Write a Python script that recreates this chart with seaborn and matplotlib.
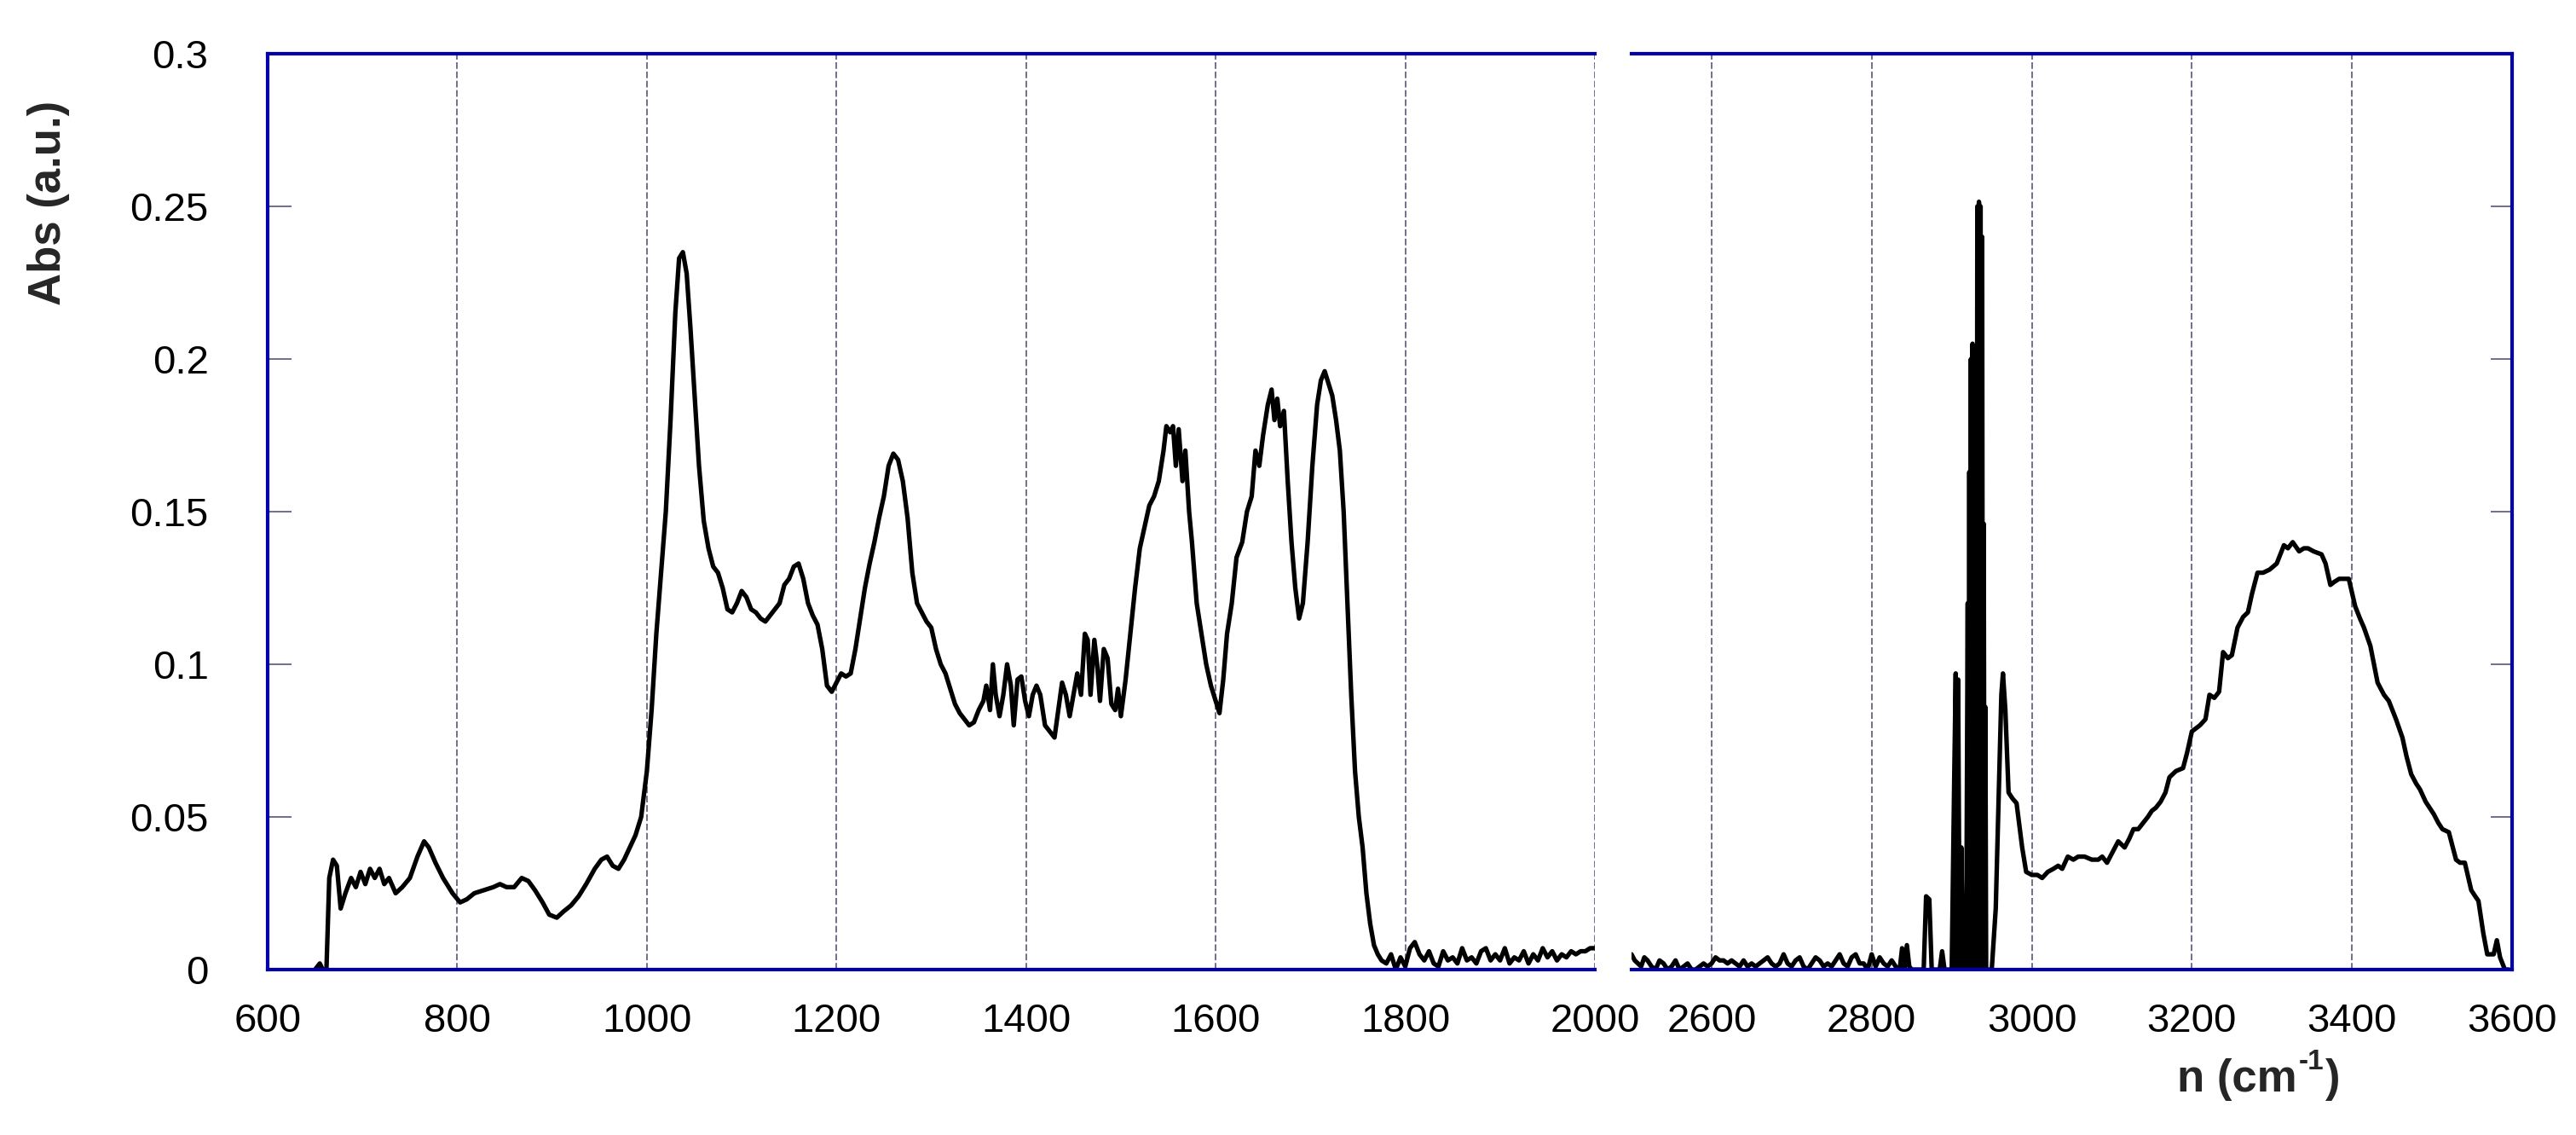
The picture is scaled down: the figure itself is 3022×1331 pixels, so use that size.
import numpy as np
import pandas as pd
import matplotlib
matplotlib.use("Agg")
import matplotlib.pyplot as plt
import seaborn as sns

# ---------------- data ----------------
left_wn = [650, 655, 658, 662, 665, 669, 673, 677, 682, 688, 693, 698, 703, 708, 713, 718, 723, 728,
           735, 742, 750, 758, 765, 770, 777, 785, 795, 803, 810, 818, 828, 838, 845, 852, 860, 868,
           875, 882, 890, 897, 905, 912, 920, 928, 936, 945, 952, 958, 964, 970, 976, 982, 988, 994,
           1000, 1005, 1010, 1015, 1020, 1025, 1030, 1034, 1038, 1042, 1046, 1050, 1055, 1060, 1065,
           1070, 1075, 1080, 1085, 1090, 1095, 1100, 1105, 1110, 1115, 1120, 1125, 1130, 1135, 1140,
           1145, 1150, 1155, 1160, 1165, 1170, 1175, 1180, 1185, 1190, 1195, 1200, 1205, 1210, 1215,
           1220, 1225, 1230, 1235, 1240, 1245, 1250, 1255, 1260, 1265, 1270, 1275, 1280, 1285, 1290,
           1295, 1300, 1305, 1310, 1315, 1320, 1325, 1330, 1335, 1340, 1345, 1350, 1355, 1358, 1362,
           1365, 1368, 1372, 1376, 1380, 1384, 1387, 1391, 1395, 1399, 1403, 1407, 1411, 1415, 1420,
           1425, 1430, 1434, 1438, 1442, 1446, 1450, 1454, 1458, 1462, 1465, 1468, 1472, 1475, 1478,
           1482, 1486, 1490, 1494, 1497, 1500, 1505, 1510, 1515, 1520, 1525, 1530, 1535, 1540, 1545,
           1548, 1552, 1555, 1558, 1561, 1565, 1568, 1572, 1575, 1580, 1585, 1590, 1595, 1600, 1604,
           1608, 1612, 1617, 1622, 1628, 1633, 1638, 1642, 1646, 1650, 1655, 1659, 1662, 1665, 1668,
           1672, 1676, 1680, 1684, 1688, 1692, 1697, 1702, 1707, 1711, 1715, 1719, 1723, 1727, 1731,
           1735, 1739, 1743, 1747, 1751, 1755, 1759, 1763, 1767, 1771, 1775, 1780, 1785, 1790, 1795,
           1800, 1805, 1810, 1815, 1820, 1825, 1830, 1835, 1840, 1845, 1850, 1855, 1860, 1865, 1870,
           1875, 1880, 1885, 1890, 1895, 1900, 1905, 1910, 1915, 1920, 1925, 1930, 1935, 1940, 1945,
           1950, 1955, 1960, 1965, 1970, 1975, 1980, 1985, 1990, 1995, 2000]
left_abs = [0.0, 0.002, 0.0, 0.0, 0.030, 0.036, 0.034, 0.020, 0.025, 0.030, 0.027, 0.032, 0.028, 0.033,
            0.030, 0.033, 0.028, 0.030, 0.025, 0.027, 0.030, 0.037, 0.042, 0.040, 0.035, 0.030, 0.025,
            0.022, 0.023, 0.025, 0.026, 0.027, 0.028, 0.027, 0.027, 0.030, 0.029, 0.026, 0.022, 0.018,
            0.017, 0.019, 0.021, 0.024, 0.028, 0.033, 0.036, 0.037, 0.034, 0.033, 0.036, 0.040, 0.044,
            0.050, 0.065, 0.085, 0.110, 0.130, 0.150, 0.180, 0.215, 0.233, 0.235, 0.228, 0.210, 0.190,
            0.165, 0.147, 0.138, 0.132, 0.130, 0.125, 0.118, 0.117, 0.120, 0.124, 0.122, 0.118, 0.117,
            0.115, 0.114, 0.116, 0.118, 0.120, 0.126, 0.128, 0.132, 0.133, 0.128, 0.120, 0.116, 0.113,
            0.105, 0.093, 0.091, 0.094, 0.097, 0.096, 0.097, 0.105, 0.115, 0.125, 0.133, 0.140, 0.148,
            0.155, 0.165, 0.169, 0.167, 0.160, 0.148, 0.130, 0.120, 0.117, 0.114, 0.112, 0.105, 0.100,
            0.097, 0.092, 0.087, 0.084, 0.082, 0.080, 0.081, 0.085, 0.088, 0.093, 0.085, 0.100, 0.090,
            0.083, 0.090, 0.100, 0.093, 0.080, 0.095, 0.096, 0.088, 0.083, 0.090, 0.093, 0.090, 0.080,
            0.078, 0.076, 0.085, 0.094, 0.090, 0.083, 0.090, 0.097, 0.090, 0.110, 0.108, 0.090, 0.108,
            0.100, 0.088, 0.105, 0.102, 0.087, 0.085, 0.092, 0.083, 0.095, 0.110, 0.125, 0.138, 0.145,
            0.152, 0.155, 0.160, 0.170, 0.178, 0.176, 0.178, 0.165, 0.177, 0.160, 0.170, 0.150, 0.140,
            0.120, 0.110, 0.100, 0.093, 0.088, 0.084, 0.095, 0.110, 0.120, 0.135, 0.140, 0.150, 0.155,
            0.170, 0.165, 0.175, 0.185, 0.190, 0.180, 0.187, 0.178, 0.183, 0.160, 0.140, 0.125, 0.115,
            0.120, 0.140, 0.165, 0.185, 0.193, 0.196, 0.192, 0.188, 0.180, 0.170, 0.150, 0.120, 0.090,
            0.065, 0.050, 0.040, 0.025, 0.015, 0.008, 0.005, 0.003, 0.002, 0.005, 0.000, 0.004, 0.001,
            0.007, 0.009, 0.005, 0.003, 0.006, 0.002, 0.001, 0.006, 0.003, 0.004, 0.002, 0.007, 0.003,
            0.004, 0.002, 0.006, 0.007, 0.003, 0.005, 0.003, 0.007, 0.002, 0.004, 0.003, 0.006, 0.002,
            0.005, 0.003, 0.007, 0.004, 0.006, 0.003, 0.005, 0.004, 0.006, 0.005, 0.006, 0.006, 0.007,
            0.007]

# right panel: baseline noise region
noise_wn = [2500, 2504, 2508, 2512, 2516, 2520, 2525, 2530, 2535, 2540,
            2545, 2550, 2555, 2560, 2565, 2570, 2575, 2580, 2585, 2590,
            2595, 2600, 2605, 2610, 2615, 2620, 2625, 2630, 2635, 2640,
            2645, 2650, 2655, 2660, 2665, 2670, 2675, 2680, 2685, 2690,
            2695, 2700, 2705, 2710, 2715, 2720, 2725, 2730, 2735, 2740,
            2745, 2750, 2755, 2760, 2765, 2770, 2775, 2780, 2785, 2790,
            2795, 2800, 2805, 2810, 2815, 2820, 2825, 2830, 2835, 2838,
            2841, 2844, 2847, 2850, 2860, 2865, 2868, 2872, 2875, 2885,
            2888, 2891, 2900]
noise_abs = [0.005, 0.003, 0.002, 0.001, 0.004, 0.003, 0.001, 0.000, 0.003, 0.002,
             0.000, 0.001, 0.003, 0.000, 0.001, 0.002, 0.000, 0.000, 0.001, 0.002,
             0.001, 0.002, 0.004, 0.003, 0.003, 0.002, 0.003, 0.002, 0.001, 0.003,
             0.001, 0.002, 0.001, 0.002, 0.003, 0.004, 0.002, 0.001, 0.002, 0.005,
             0.002, 0.001, 0.003, 0.004, 0.001, 0.000, 0.002, 0.004, 0.003, 0.001,
             0.002, 0.001, 0.003, 0.005, 0.002, 0.001, 0.004, 0.005, 0.002, 0.002,
             0.000, 0.005, 0.001, 0.004, 0.002, 0.001, 0.003, 0.001, 0.000, 0.007,
             0.000, 0.008, 0.001, 0.000, 0.000, 0.000, 0.024, 0.023, 0.000, 0.000,
             0.006, 0.000, 0.000]

# right panel: C-H stretching spikes
ch_wn = [2903, 2905, 2906, 2908, 2910, 2912, 2914, 2918, 2920, 2921,
         2922, 2923, 2924, 2925, 2926, 2927, 2928, 2929, 2930, 2931,
         2932, 2933, 2934, 2935, 2936, 2937, 2938, 2939, 2940, 2941,
         2942, 2943, 2947, 2950, 2955, 2958, 2962, 2964, 2967, 2971,
         2976, 2981, 2988, 2993]
ch_abs = [0.060, 0.097, 0.000, 0.095, 0.000, 0.040, 0.000, 0.000, 0.120, 0.000,
          0.163, 0.000, 0.200, 0.000, 0.205, 0.000, 0.204, 0.000, 0.203, 0.000,
          0.250, 0.000, 0.2515, 0.000, 0.250, 0.000, 0.240, 0.000, 0.146, 0.000,
          0.086, 0.000, 0.000, 0.000, 0.020, 0.050, 0.090, 0.097, 0.085, 0.058,
          0.056, 0.0545, 0.040, 0.032]

# right panel: broad O-H band
oh_wn = [3000, 3007, 3013, 3020, 3027, 3033, 3038, 3045, 3052, 3058,
         3066, 3075, 3083, 3088, 3094, 3100, 3108, 3116, 3122, 3127,
         3133, 3139, 3145, 3150, 3155, 3161, 3167, 3172, 3180, 3189,
         3194, 3200, 3205, 3210, 3217, 3222, 3228, 3234, 3239, 3245,
         3250, 3257, 3264, 3270, 3275, 3282, 3289, 3297, 3306, 3315,
         3320, 3326, 3334, 3340, 3345, 3352, 3362, 3367, 3373, 3378,
         3384, 3390, 3396, 3404, 3410, 3415, 3423, 3432, 3440, 3446,
         3455, 3463, 3468, 3474, 3480, 3485, 3492, 3502, 3508, 3513,
         3521, 3530, 3535, 3541, 3549, 3554, 3558, 3564, 3569, 3577,
         3581, 3585, 3591, 3596]
oh_abs = [0.031, 0.031, 0.030, 0.032, 0.033, 0.034, 0.033, 0.037, 0.036, 0.037,
          0.037, 0.036, 0.036, 0.037, 0.035, 0.038, 0.042, 0.040, 0.043, 0.046,
          0.046, 0.048, 0.050, 0.052, 0.053, 0.055, 0.058, 0.063, 0.065, 0.066,
          0.071, 0.078, 0.079, 0.080, 0.082, 0.090, 0.089, 0.091, 0.104, 0.102,
          0.103, 0.112, 0.1155, 0.117, 0.123, 0.130, 0.130, 0.131, 0.133, 0.139,
          0.138, 0.140, 0.137, 0.138, 0.138, 0.137, 0.136, 0.133, 0.126, 0.127,
          0.128, 0.128, 0.128, 0.119, 0.115, 0.112, 0.106, 0.094, 0.090, 0.088,
          0.082, 0.076, 0.070, 0.064, 0.061, 0.059, 0.055, 0.051, 0.048, 0.046,
          0.045, 0.036, 0.035, 0.035, 0.026, 0.024, 0.0225, 0.012, 0.005, 0.005,
          0.0096, 0.004, 0.000, 0.000]

left_xticks = [600, 800, 1000, 1200, 1400, 1600, 1800, 2000]
right_xticks = [2600, 2800, 3000, 3200, 3400, 3600]
y_ticks = [0, 0.05, 0.1, 0.15, 0.2, 0.25, 0.3]
y_ticklabels = ["0", "0.05", "0.1", "0.15", "0.2", "0.25", "0.3"]
y_label = "Abs (a.u.)"
x_label_parts = ["n (cm", "-1", ")"]

# ---------------- style ----------------
sns.set_theme(style="white")
plt.rcParams["font.family"] = ["Liberation Sans", "DejaVu Sans"]

SPINE = "#0000AA"
GRID = "#70708a"
TICKC = "#55557a"
FS = 17

W, H = 3022, 1331
fig = plt.figure(figsize=(W / 200, H / 200), dpi=200)
fig.patch.set_facecolor("white")

bot = 1 - 1137 / H
hgt = 1074 / H
axL = fig.add_axes([314 / W, bot, 1557 / W, hgt])
axR = fig.add_axes([1914 / W, bot, 1033 / W, hgt])

dfL = pd.DataFrame({"wn": left_wn, "abs": left_abs})
dfR = pd.DataFrame({"wn": noise_wn + ch_wn + oh_wn,
                    "abs": noise_abs + ch_abs + oh_abs})

sns.lineplot(data=dfL, x="wn", y="abs", ax=axL, color="black", lw=1.9,
             estimator=None, sort=False)
sns.lineplot(data=dfR, x="wn", y="abs", ax=axR, color="black", lw=1.9,
             estimator=None, sort=False)

for ax, xt, xl in [(axL, left_xticks, (600, 2000)), (axR, right_xticks, (2500, 3600))]:
    ax.set_xlim(*xl)
    ax.set_ylim(0, 0.3)
    ax.set_xticks(xt)
    ax.set_xticklabels([str(v) for v in xt], fontsize=FS)
    ax.set_yticks(y_ticks)
    ax.set_xlabel("")
    ax.set_ylabel("")
    ax.grid(False)
    ax.xaxis.grid(True, color=GRID, lw=0.7, linestyle=(0, (4, 1.6)))
    ax.set_axisbelow(True)
    for s in ax.spines.values():
        s.set_color(SPINE)
        s.set_linewidth(1.5)
    ax.tick_params(axis="x", length=0, pad=14, labelsize=FS, colors="black")

axL.spines["right"].set_visible(False)
axR.spines["left"].set_visible(False)

axL.set_yticklabels(y_ticklabels, fontsize=FS)
axL.tick_params(axis="y", direction="in", length=10, width=0.6, color=TICKC,
                left=True, right=False, pad=25, labelsize=FS, labelcolor="black")
axR.tick_params(axis="y", direction="in", length=9, width=0.6, color=TICKC,
                left=False, right=True, labelleft=False, labelright=False)

fig.text(57 / W, 1 - 238 / H, y_label, rotation=90, ha="center", va="center",
         fontsize=19, fontweight="bold")

# x label with a hyphen superscript, assembled from pieces
fig.canvas.draw()
renderer = fig.canvas.get_renderer()
base_y = 1 - 1280 / H
t1 = fig.text(0, base_y, x_label_parts[0], ha="left", va="baseline",
              fontsize=19, fontweight="bold")
t2 = fig.text(0, base_y, x_label_parts[1], ha="left", va="baseline",
              fontsize=12, fontweight="bold")
t3 = fig.text(0, base_y, x_label_parts[2], ha="left", va="baseline",
              fontsize=19, fontweight="bold")
w1 = t1.get_window_extent(renderer).width / W
w2 = t2.get_window_extent(renderer).width / W
w3 = t3.get_window_extent(renderer).width / W
total = w1 + w2 + w3
x0 = 2648 / W - total / 2
t1.set_x(x0)
t2.set_x(x0 + w1 + 2 / W)
t2.set_y(base_y + 26 / H)
t3.set_x(x0 + w1 + w2 + 4 / W)

fig.savefig("out.png", dpi=200, facecolor="white")
